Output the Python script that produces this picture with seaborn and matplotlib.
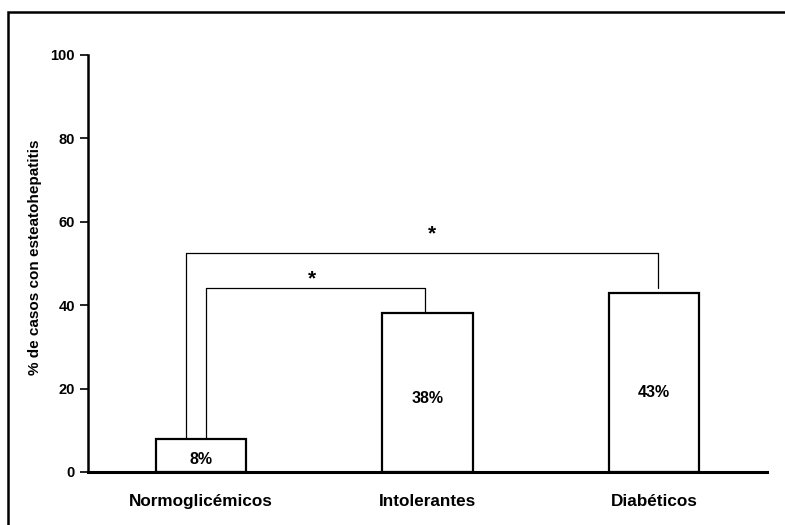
# Porcentaje de casos con esteatohepatitis por grupo glucémico
import pandas as pd
import matplotlib
matplotlib.use("Agg")
import matplotlib.pyplot as plt
import seaborn as sns
from matplotlib.patches import Rectangle

# ---------------------------------
# Data
# ---------------------------------
groups = ["Normoglicémicos", "Intolerantes", "Diabéticos"]
percent = [8, 38, 43]
bar_labels = ["8%", "38%", "43%"]
label_y = [3, 17.5, 19]

# significance brackets: (x left, x right, top, left foot, right foot)
brackets = [
    (0.02, 0.99, 44, 8, 38),
    (-0.065, 2.02, 52.5, 8, 44),
]
stars_x = [0.49, 1.02]
stars_y = [46.3, 57]

df = pd.DataFrame({"grupo": groups, "pct": percent})

# ---------------------------------
# Plot
# ---------------------------------
sns.set_style("white")
plt.rcParams["font.family"] = ["Liberation Sans", "DejaVu Sans"]
plt.rcParams["font.weight"] = "bold"
plt.rcParams["text.color"] = "black"
plt.rcParams["axes.labelcolor"] = "black"
plt.rcParams["xtick.color"] = "black"
plt.rcParams["ytick.color"] = "black"

fig = plt.figure(figsize=(7.85, 5.25), dpi=100)
ax = fig.add_axes([0.1121, 0.101, 0.865, 0.7945])

sns.barplot(data=df, x="grupo", y="pct", color="white", edgecolor="black",
            linewidth=1.6, width=0.4, saturation=1, ax=ax)

for i, lab in enumerate(bar_labels):
    ax.text(i, label_y[i], lab, ha="center", va="center",
            fontsize=11.5, fontweight="bold", color="black")

for x0, x1, top, f0, f1 in brackets:
    ax.plot([x0, x0, x1, x1], [f0, top, top, f1], color="black", lw=0.9)

for sx, sy in zip(stars_x, stars_y):
    ax.text(sx, sy, "*", ha="center", va="center", fontsize=15,
            fontweight="bold", color="black")

ax.set_xlim(-0.5, 2.5)
ax.set_ylim(0, 100)
ax.set_yticks([0, 20, 40, 60, 80, 100])
ax.set_xlabel("")
ax.set_ylabel("% de casos con esteatohepatitis", fontsize=11, fontweight="bold")
ax.yaxis.set_label_coords(-0.068, 0.515)
ax.tick_params(axis="y", left=True, length=6, width=1.2, labelsize=10.5, pad=3.5,
               colors="black")
ax.tick_params(axis="x", bottom=False, labelsize=12.3, pad=12, colors="black")
for lab in ax.get_xticklabels() + ax.get_yticklabels():
    lab.set_fontweight("bold")

sns.despine(ax=ax)
ax.spines["left"].set_linewidth(1.8)
ax.spines["bottom"].set_linewidth(2.2)
ax.spines["left"].set_color("black")
ax.spines["bottom"].set_color("black")

# outer frame (left and top edges visible only)
fig.patches.append(Rectangle((0.0105, -0.05), 1.1, 1.027, transform=fig.transFigure,
                             fill=False, edgecolor="black", linewidth=1.8))

fig.savefig("out.png", dpi=100)
